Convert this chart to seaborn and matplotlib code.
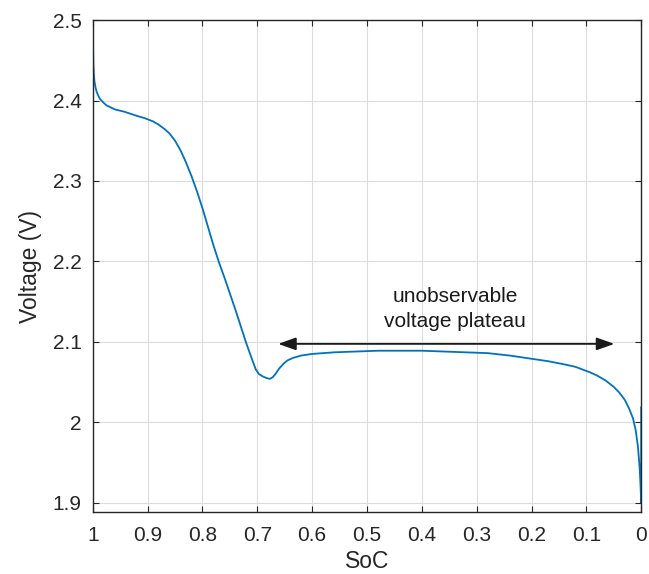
import matplotlib
matplotlib.use("Agg")
import matplotlib.pyplot as plt
import seaborn as sns
import pandas as pd

soc = [1.0, 0.9995, 0.999, 0.998, 0.997, 0.995, 0.993, 0.99, 0.987, 0.98,
       0.975, 0.96, 0.942, 0.92, 0.905, 0.89, 0.88, 0.87, 0.86, 0.85,
       0.84, 0.83, 0.82, 0.81, 0.80, 0.79, 0.78, 0.77, 0.76, 0.75,
       0.74, 0.73, 0.72, 0.71, 0.703, 0.697, 0.69, 0.683, 0.677, 0.672,
       0.667, 0.66, 0.652, 0.645, 0.635, 0.62, 0.6, 0.56, 0.52, 0.48,
       0.44, 0.40, 0.36, 0.32, 0.28, 0.24, 0.20, 0.17, 0.14, 0.12,
       0.093, 0.08, 0.065, 0.05, 0.04, 0.03, 0.022, 0.015, 0.01, 0.006,
       0.003, 0.0015, 0.0, 0.0]
voltage = [2.5, 2.47, 2.445, 2.432, 2.424, 2.416, 2.411, 2.406, 2.402, 2.397,
           2.394, 2.389, 2.386, 2.381, 2.378, 2.374, 2.370, 2.365, 2.359, 2.350,
           2.338, 2.323, 2.306, 2.287, 2.266, 2.243, 2.220, 2.199, 2.180, 2.160,
           2.140, 2.119, 2.098, 2.079, 2.066, 2.060, 2.057, 2.055, 2.054, 2.056,
           2.060, 2.067, 2.073, 2.077, 2.080, 2.083, 2.085, 2.087, 2.088, 2.089,
           2.089, 2.089, 2.088, 2.087, 2.086, 2.083, 2.079, 2.076, 2.072, 2.069,
           2.062, 2.058, 2.052, 2.044, 2.037, 2.028, 2.017, 2.005, 1.99, 1.97,
           1.945, 1.925, 1.9, 2.019]

x_ticks = [1, 0.9, 0.8, 0.7, 0.6, 0.5, 0.4, 0.3, 0.2, 0.1, 0]
x_tick_labels = ["1", "0.9", "0.8", "0.7", "0.6", "0.5", "0.4", "0.3", "0.2", "0.1", "0"]
y_ticks = [1.9, 2.0, 2.1, 2.2, 2.3, 2.4, 2.5]
y_tick_labels = ["1.9", "2", "2.1", "2.2", "2.3", "2.4", "2.5"]

annotation_text = "unobservable\nvoltage plateau"
arrow_start = 0.662
arrow_end = 0.049
arrow_v = 2.0975

sns.set_theme(style="whitegrid")
plt.rcParams['font.family'] = ['Liberation Sans', 'DejaVu Sans']

df = pd.DataFrame({"SoC": soc, "Voltage": voltage})

fig = plt.figure(figsize=(6.49, 5.74), dpi=100)
ax = fig.add_axes([0.143, 0.108, 0.845, 0.857])

sns.lineplot(data=df, x="SoC", y="Voltage", sort=False, estimator=None,
             color="#0072BD", linewidth=1.3, ax=ax)

ax.set_xlim(1, 0)
ax.set_ylim(1.8885, 2.5)
ax.set_xticks(x_ticks)
ax.set_xticklabels(x_tick_labels)
ax.set_yticks(y_ticks)
ax.set_yticklabels(y_tick_labels)

ax.set_facecolor("white")
ax.grid(True, color="#dcdcdc", linewidth=0.8)
for s in ax.spines.values():
    s.set_visible(True)
    s.set_color("#262626")
    s.set_linewidth(1.0)

ax.tick_params(axis="both", which="both", direction="in", length=4, width=0.8,
               color="#262626", labelsize=15, labelcolor="#262626",
               top=True, right=True, bottom=True, left=True, pad=8)
ax.tick_params(axis="x", pad=10)

ax.set_xlabel("SoC", fontsize=16.5, color="#262626", labelpad=4)
ax.set_ylabel("Voltage (V)", fontsize=16.5, color="#262626", labelpad=8)

ax.annotate("", xy=(arrow_end, arrow_v), xytext=(arrow_start, arrow_v),
            arrowprops=dict(arrowstyle="<|-|>,head_length=0.9,head_width=0.32",
                            color="#1a1a1a", linewidth=1.3,
                            shrinkA=0, shrinkB=0))
ax.text(0.339, 2.141, annotation_text, ha="center", va="center",
        fontsize=15, color="#1a1a1a", linespacing=1.45)

fig.savefig("out.png", dpi=100, facecolor="white")
